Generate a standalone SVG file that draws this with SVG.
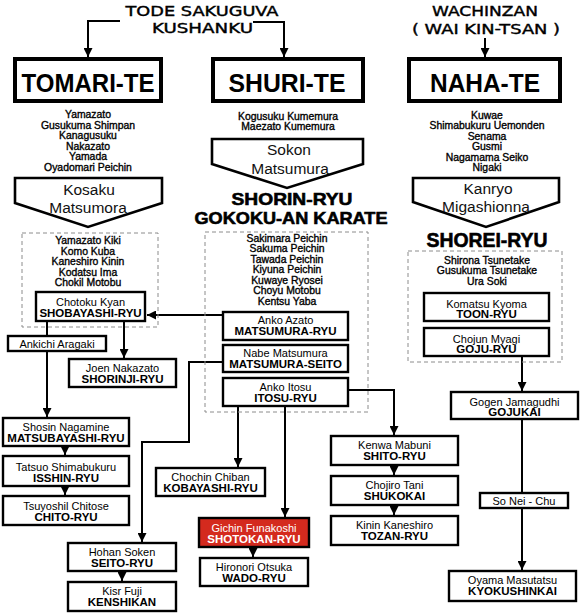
<svg xmlns="http://www.w3.org/2000/svg" width="580" height="613" viewBox="0 0 580 613">
<style>
.main{fill:#fff;stroke:#000;stroke-width:4}
.box{fill:#fff;stroke:#000;stroke-width:2.4}
.red{fill:#d42a1e;stroke:#000;stroke-width:2.4}
.ban{fill:#fff;stroke:#000;stroke-width:2.6;stroke-linejoin:miter}
.dash{fill:none;stroke:#8c8c8c;stroke-width:1;stroke-dasharray:4 3}
text{font-family:'Liberation Sans',Arial,sans-serif;text-anchor:middle;fill:#000}
.l{font-size:10.4px;stroke:#000;stroke-width:0.35}
.n{font-size:11px}
.s{font-size:11.5px;font-weight:bold}
.w{fill:#fff}
.big{font-size:26px;font-weight:bold}
.hd{font-size:17px;font-weight:bold;stroke:#000;stroke-width:0.6}
.br{font-family:'DejaVu Sans','Liberation Sans',sans-serif;font-size:14px;stroke:#000;stroke-width:0.4}
.bt{font-family:'Liberation Sans',Arial,sans-serif;font-size:15.5px;fill:#111}
.conn{fill:none;stroke:#000;stroke-width:2}
</style>
<defs>
<marker id="ah" markerUnits="userSpaceOnUse" markerWidth="9" markerHeight="9" refX="9" refY="4.5" orient="auto">
<path d="M0,0 L9,4.5 L0,9 Z" fill="#000"/>
</marker>
</defs>

<g id="origins">
<text class="br" x="202" y="16" textLength="153" lengthAdjust="spacingAndGlyphs">TODE SAKUGUVA</text>
<text class="br" x="202.5" y="33" textLength="101" lengthAdjust="spacingAndGlyphs">KUSHANKU</text>
<text class="br" x="485" y="16" textLength="106" lengthAdjust="spacingAndGlyphs">WACHINZAN</text>
<text class="br" x="486" y="34" textLength="148" lengthAdjust="spacingAndGlyphs">( WAI KIN-TSAN )</text>
</g>

<g id="connectors">
<polyline class="conn" points="120,21 88,21 88,57" marker-end="url(#ah)"/>
<polyline class="conn" points="253,22 284,22 284,57" marker-end="url(#ah)"/>
<line class="conn" x1="485" y1="38" x2="485" y2="57" marker-end="url(#ah)"/>
<line class="conn" x1="222" y1="315" x2="147" y2="315" marker-end="url(#ah)"/>
<line class="conn" x1="47" y1="322" x2="47" y2="335"/>
<line class="conn" x1="47" y1="351" x2="47" y2="417" marker-end="url(#ah)"/>
<line class="conn" x1="124" y1="322" x2="124" y2="358" marker-end="url(#ah)"/>
<polyline class="conn" points="222,362 189,362 189,442 142,442 142,542" marker-end="url(#ah)"/>
<line class="conn" x1="238" y1="407" x2="238" y2="467" marker-end="url(#ah)"/>
<line class="conn" x1="285" y1="407" x2="285" y2="517" marker-end="url(#ah)"/>
<polyline class="conn" points="349,390 394,390 394,435" marker-end="url(#ah)"/>
<line class="conn" x1="394" y1="466" x2="394" y2="475" marker-end="url(#ah)"/>
<line class="conn" x1="394" y1="506" x2="394" y2="515" marker-end="url(#ah)"/>
<line class="conn" x1="65" y1="447" x2="65" y2="455" marker-end="url(#ah)"/>
<line class="conn" x1="65" y1="487" x2="65" y2="495" marker-end="url(#ah)"/>
<line class="conn" x1="122" y1="572" x2="122" y2="581" marker-end="url(#ah)"/>
<line class="conn" x1="253" y1="548" x2="253" y2="557" marker-end="url(#ah)"/>
<line class="conn" x1="522" y1="357" x2="522" y2="391" marker-end="url(#ah)"/>
<line class="conn" x1="522" y1="420" x2="522" y2="493"/>
<line class="conn" x1="522" y1="508" x2="522" y2="570" marker-end="url(#ah)"/>
</g>

<g id="tomari-te">
<rect class="main" x="15" y="59" width="146" height="42"/>
<text class="big" x="88" y="92" textLength="133" lengthAdjust="spacingAndGlyphs">TOMARI-TE</text>
</g>
<g id="shuri-te">
<rect class="main" x="213" y="59" width="150" height="42"/>
<text class="big" x="287" y="92" textLength="117" lengthAdjust="spacingAndGlyphs">SHURI-TE</text>
</g>
<g id="naha-te">
<rect class="main" x="409" y="59" width="151" height="42"/>
<text class="big" x="485" y="92" textLength="110" lengthAdjust="spacingAndGlyphs">NAHA-TE</text>
</g>

<g id="tomari-list">
<text class="l" x="88" y="118">Yamazato</text>
<text class="l" x="88" y="128.5">Gusukuma Shimpan</text>
<text class="l" x="88" y="139">Kanagusuku</text>
<text class="l" x="88" y="149.5">Nakazato</text>
<text class="l" x="88" y="160">Yamada</text>
<text class="l" x="88" y="170.5">Oyadomari Peichin</text>
</g>
<g id="shuri-list">
<text class="l" x="288" y="119.5">Kogusuku Kumemura</text>
<text class="l" x="288" y="130">Maezato Kumemura</text>
</g>
<g id="naha-list">
<text class="l" x="487" y="118.5">Kuwae</text>
<text class="l" x="487" y="129">Shimabukuru Uemonden</text>
<text class="l" x="487" y="139.5">Senama</text>
<text class="l" x="487" y="150">Gusmi</text>
<text class="l" x="487" y="160.5">Nagamama Seiko</text>
<text class="l" x="487" y="171">Nigaki</text>
</g>

<g id="kosaku">
<path class="ban" d="M15,178 H162 V203 L88,227 L15,203 Z"/>
<text class="bt" x="89" y="195">Kosaku</text>
<text class="bt" x="88" y="213">Matsumora</text>
</g>
<g id="sokon">
<path class="ban" d="M212,139 H363 V164 L287,188 L212,164 Z"/>
<text class="bt" x="289" y="155">Sokon</text>
<text class="bt" x="290" y="174">Matsumura</text>
</g>
<g id="kanryo">
<path class="ban" d="M413,178 H559 V202 L486,227 L413,202 Z"/>
<text class="bt" x="488" y="194">Kanryo</text>
<text class="bt" x="486" y="212">Migashionna</text>
</g>

<g id="shorin-ryu">
<text class="hd" x="292" y="205" textLength="121" lengthAdjust="spacingAndGlyphs">SHORIN-RYU</text>
<text class="hd" x="291" y="224" textLength="193" lengthAdjust="spacingAndGlyphs">GOKOKU-AN KARATE</text>
</g>
<g id="shorei-ryu">
<text class="hd" x="487" y="247" textLength="121" lengthAdjust="spacingAndGlyphs" style="font-size:20px">SHOREI-RYU</text>
</g>

<g id="left-group">
<rect class="dash" x="22" y="233" width="136" height="94"/>
<text class="l" x="88" y="244">Yamazato Kiki</text>
<text class="l" x="88" y="254.5">Komo Kuba</text>
<text class="l" x="88" y="265">Kaneshiro Kinin</text>
<text class="l" x="88" y="275.5">Kodatsu Ima</text>
<text class="l" x="88" y="286">Chokil Motobu</text>
</g>
<g id="middle-group">
<rect class="dash" x="205" y="232" width="163" height="180"/>
<text class="l" x="287" y="241.5">Sakimara Peichin</text>
<text class="l" x="287" y="252">Sakuma Peichin</text>
<text class="l" x="287" y="262.5">Tawada Peichin</text>
<text class="l" x="287" y="273">Kiyuna Peichin</text>
<text class="l" x="287" y="283.5">Kuwaye Ryosei</text>
<text class="l" x="287" y="294">Choyu Motobu</text>
<text class="l" x="287" y="304.5">Kentsu Yaba</text>
</g>
<g id="right-group">
<rect class="dash" x="408" y="251" width="154" height="111"/>
<text class="l" x="487" y="263.5">Shirona Tsunetake</text>
<text class="l" x="487" y="274">Gusukuma Tsunetake</text>
<text class="l" x="487" y="284.5">Ura Soki</text>
</g>

<g id="chotoku">
<rect class="box" x="36" y="292" width="109" height="29"/>
<text class="n" x="90.5" y="305.5">Chotoku Kyan</text>
<text class="s" x="90.5" y="316.5">SHOBAYASHI-RYU</text>
</g>
<g id="ankichi">
<rect class="box" x="8" y="336" width="98" height="15"/>
<text class="n" x="57" y="347.5">Ankichi Aragaki</text>
</g>
<g id="joen">
<rect class="box" x="69" y="359" width="107" height="28"/>
<text class="n" x="122.5" y="372">Joen Nakazato</text>
<text class="s" x="122.5" y="383">SHORINJI-RYU</text>
</g>
<g id="azato">
<rect class="box" x="223" y="312" width="125" height="28"/>
<text class="n" x="285.5" y="324">Anko Azato</text>
<text class="s" x="285.5" y="335">MATSUMURA-RYU</text>
</g>
<g id="nabe">
<rect class="box" x="223" y="345" width="125" height="27"/>
<text class="n" x="285.5" y="357">Nabe Matsumura</text>
<text class="s" x="285.5" y="368">MATSUMURA-SEITO</text>
</g>
<g id="itosu">
<rect class="box" x="223" y="378" width="125" height="28"/>
<text class="n" x="285.5" y="391">Anko Itosu</text>
<text class="s" x="285.5" y="402">ITOSU-RYU</text>
</g>
<g id="shosin">
<rect class="box" x="3" y="418" width="126" height="28"/>
<text class="n" x="66" y="431">Shosin Nagamine</text>
<text class="s" x="66" y="442">MATSUBAYASHI-RYU</text>
</g>
<g id="tatsuo">
<rect class="box" x="3" y="456" width="126" height="30"/>
<text class="n" x="66" y="470.5">Tatsuo Shimabukuru</text>
<text class="s" x="66" y="481.5">ISSHIN-RYU</text>
</g>
<g id="tsuyoshil">
<rect class="box" x="3" y="496" width="126" height="29"/>
<text class="n" x="66" y="510">Tsuyoshil Chitose</text>
<text class="s" x="66" y="521">CHITO-RYU</text>
</g>
<g id="chochin">
<rect class="box" x="156" y="468" width="109" height="28"/>
<text class="n" x="210.5" y="480.5">Chochin Chiban</text>
<text class="s" x="210.5" y="491.5">KOBAYASHI-RYU</text>
</g>
<g id="shotokan">
<rect class="red" x="199" y="518" width="110" height="29"/>
<text class="n w" x="254" y="531.5">Gichin Funakoshi</text>
<text class="s w" x="254" y="543">SHOTOKAN-RYU</text>
</g>
<g id="wado">
<rect class="box" x="200" y="558" width="108" height="28"/>
<text class="n" x="254" y="571">Hironori Otsuka</text>
<text class="s" x="254" y="582">WADO-RYU</text>
</g>
<g id="hohan">
<rect class="box" x="68" y="543" width="108" height="28"/>
<text class="n" x="122" y="556">Hohan Soken</text>
<text class="s" x="122" y="567">SEITO-RYU</text>
</g>
<g id="kisr">
<rect class="box" x="68" y="582" width="108" height="29"/>
<text class="n" x="122" y="595">Kisr Fuji</text>
<text class="s" x="122" y="606">KENSHIKAN</text>
</g>
<g id="kenwa">
<rect class="box" x="331" y="436" width="127" height="29"/>
<text class="n" x="394.5" y="449">Kenwa Mabuni</text>
<text class="s" x="394.5" y="460">SHITO-RYU</text>
</g>
<g id="chojiro">
<rect class="box" x="331" y="476" width="127" height="29"/>
<text class="n" x="394.5" y="489">Chojiro Tani</text>
<text class="s" x="394.5" y="500">SHUKOKAI</text>
</g>
<g id="kinin">
<rect class="box" x="331" y="516" width="127" height="29"/>
<text class="n" x="394.5" y="529">Kinin Kaneshiro</text>
<text class="s" x="394.5" y="540">TOZAN-RYU</text>
</g>
<g id="komatsu">
<rect class="box" x="424" y="293" width="125" height="28"/>
<text class="n" x="486.5" y="307.5">Komatsu Kyoma</text>
<text class="s" x="486.5" y="318">TOON-RYU</text>
</g>
<g id="chojun">
<rect class="box" x="424" y="328" width="125" height="28"/>
<text class="n" x="486.5" y="342.5">Chojun Myagi</text>
<text class="s" x="486.5" y="353">GOJU-RYU</text>
</g>
<g id="gogen">
<rect class="box" x="451" y="392" width="127" height="27"/>
<text class="n" x="514.5" y="405.5">Gogen Jamagudhi</text>
<text class="s" x="514.5" y="416">GOJUKAI</text>
</g>
<g id="sonei">
<rect class="box" x="480" y="493" width="88" height="15"/>
<text class="n" x="524" y="504.5">So Nei - Chu</text>
</g>
<g id="oyama">
<rect class="box" x="449" y="571" width="127" height="30"/>
<text class="n" x="512.5" y="584">Oyama Masutatsu</text>
<text class="s" x="512.5" y="595">KYOKUSHINKAI</text>
</g>
</svg>
